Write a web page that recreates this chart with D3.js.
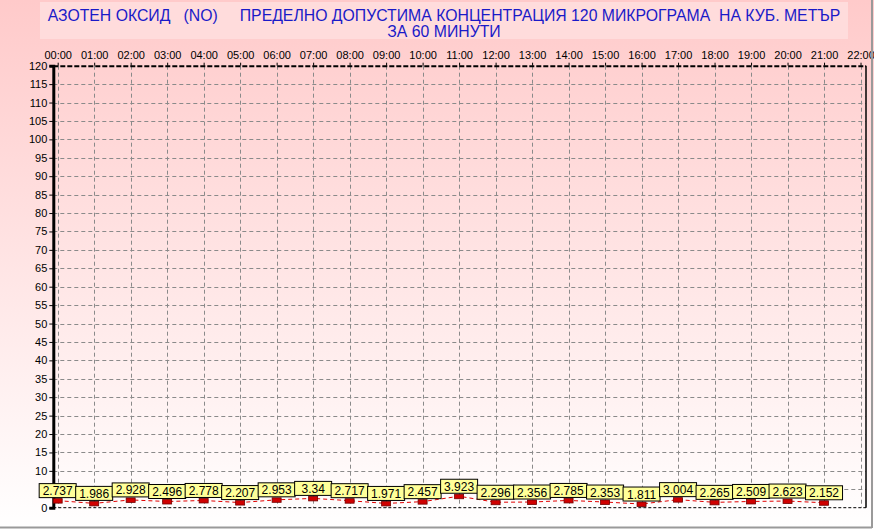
<!DOCTYPE html>
<html>
<head>
<meta charset="utf-8">
<script src="https://cdn.jsdelivr.net/npm/d3@7"></script>
<style>
  body { margin: 0; background: #fff; }
  svg { display: block; font-family: "Liberation Sans", Arial, sans-serif; }
</style>
</head>
<body>
<svg id="chart"></svg>
<script>
// hourly averages, hours 00:00 .. 21:00
const hours = d3.range(0, 22);
const values = [2.737, 1.986, 2.928, 2.496, 2.778, 2.207, 2.953, 3.34, 2.717, 1.971, 2.457,
                3.923, 2.296, 2.356, 2.785, 2.353, 1.811, 3.004, 2.265, 2.509, 2.623, 2.152];
const xTicks = d3.range(0, 23);           // 00:00 .. 22:00
const yTicks = d3.range(0, 121, 5);       // 0 .. 120
const titleLines = [
    "АЗОТЕН ОКСИД   (NO)     ПРЕДЕЛНО ДОПУСТИМА КОНЦЕНТРАЦИЯ 120 МИКРОГРАМА  НА КУБ. МЕТЪР",
    "ЗА 60 МИНУТИ"
];

const svgWidth = 874, svgHeight = 529;
const plot = { left: 53.3, right: 866, top: 65.7, bottom: 507.7 };

const svg = d3.select("#chart")
    .attr("width", svgWidth)
    .attr("height", svgHeight);

// background gradient, pink at top fading to white
const defs = svg.append("defs");
const grad = defs.append("linearGradient")
    .attr("id", "bg").attr("x1", 0).attr("y1", 0).attr("x2", 0).attr("y2", 1);
grad.append("stop").attr("offset", "0%").attr("stop-color", "#ffcaca");
grad.append("stop").attr("offset", "100%").attr("stop-color", "#ffffff");

svg.append("rect")
    .attr("width", svgWidth).attr("height", svgHeight)
    .attr("fill", "url(#bg)");

// title box
svg.append("rect")
    .attr("x", 40).attr("y", 2)
    .attr("width", 808).attr("height", 37)
    .attr("fill", "#ffdcdc");

svg.append("g")
    .selectAll("text")
    .data(titleLines)
    .join("text")
    .attr("x", 444)
    .attr("y", (d, i) => 21 + i * 16)
    .attr("text-anchor", "middle")
    .style("font-size", "15.8px")
    .style("fill", "#1a1ac8")
    .style("white-space", "pre")
    .attr("xml:space", "preserve")
    .text(d => d);

// scales
const xScale = d3.scaleLinear().domain([-0.12, 22.15]).range([plot.left, plot.right]);
const yScale = d3.scaleLinear().domain([0, 120]).range([plot.bottom, plot.top]);

// grid
const grid = svg.append("g")
    .attr("stroke", "#8a8a8a")
    .attr("stroke-dasharray", "4,3")
    .attr("stroke-width", 1);

grid.selectAll("line.v")
    .data(xTicks)
    .join("line")
    .attr("class", "v")
    .attr("x1", d => Math.round(xScale(d)) + 0.5)
    .attr("x2", d => Math.round(xScale(d)) + 0.5)
    .attr("y1", plot.top)
    .attr("y2", plot.bottom);

grid.selectAll("line.h")
    .data(yTicks.filter(d => d > 0 && d < 120))
    .join("line")
    .attr("class", "h")
    .attr("x1", plot.left)
    .attr("x2", plot.right)
    .attr("y1", d => Math.round(yScale(d)) + 0.5)
    .attr("y2", d => Math.round(yScale(d)) + 0.5);

// frame: dashed top and bottom, solid right, thick left axis
svg.append("line")
    .attr("x1", plot.left).attr("x2", plot.right)
    .attr("y1", plot.top + 0.5).attr("y2", plot.top + 0.5)
    .attr("stroke", "#000").attr("stroke-width", 2)
    .attr("stroke-dasharray", "5,2");

svg.append("line")
    .attr("x1", plot.left).attr("x2", plot.right)
    .attr("y1", plot.bottom).attr("y2", plot.bottom)
    .attr("stroke", "#000").attr("stroke-width", 1)
    .attr("stroke-dasharray", "3,2");

svg.append("line")
    .attr("x1", plot.right).attr("x2", plot.right)
    .attr("y1", plot.top).attr("y2", plot.bottom)
    .attr("stroke", "#000").attr("stroke-width", 1.5);

// Y axis
const yAxis = svg.append("g")
    .attr("transform", `translate(${plot.left}, 0)`)
    .call(d3.axisLeft(yScale).tickValues(yTicks).tickSize(4).tickPadding(2));
yAxis.select(".domain").attr("stroke-width", 3);
yAxis.selectAll("text").style("font-size", "11px").style("font-family", "Liberation Sans, Arial, sans-serif");

// X axis on top
const xAxis = svg.append("g")
    .attr("transform", `translate(0, ${plot.top})`)
    .call(d3.axisTop(xScale).tickValues(xTicks)
        .tickFormat(d => d3.format("02d")(d) + ":00")
        .tickSize(3).tickPadding(4));
xAxis.select(".domain").remove();
xAxis.selectAll("text").style("font-size", "11px").style("font-family", "Liberation Sans, Arial, sans-serif");

// series line
const data = hours.map((h, i) => ({ hour: h, value: values[i] }));

const line = d3.line()
    .x(d => xScale(d.hour))
    .y(d => yScale(d.value) + 3);

svg.append("path")
    .datum(data)
    .attr("fill", "none")
    .attr("stroke", "#e00000")
    .attr("stroke-width", 1)
    .attr("stroke-dasharray", "4,3")
    .attr("d", line);

// markers
svg.append("g")
    .selectAll("rect")
    .data(data)
    .join("rect")
    .attr("x", d => xScale(d.hour) - 4.5)
    .attr("y", d => yScale(d.value) + 1)
    .attr("width", 9)
    .attr("height", 4.5)
    .attr("fill", "#d00000")
    .attr("stroke", "#700000")
    .attr("stroke-width", 0.8);

// value labels
const labels = svg.append("g")
    .selectAll("g")
    .data(data)
    .join("g")
    .attr("transform", d => `translate(${xScale(d.hour)}, ${yScale(d.value)})`);

labels.append("rect")
    .attr("x", -18.5)
    .attr("y", -14)
    .attr("width", 37)
    .attr("height", 14)
    .attr("fill", "#ffff99")
    .attr("stroke", "#000")
    .attr("stroke-width", 1);

labels.append("text")
    .attr("x", 0)
    .attr("y", -2.5)
    .attr("text-anchor", "middle")
    .style("font-size", "12px")
    .style("fill", "#000")
    .text(d => d.value);

// outer bevel lines
svg.append("line")
    .attr("x1", 0).attr("x2", 872).attr("y1", 527.5).attr("y2", 527.5)
    .attr("stroke", "#9a9a9a").attr("stroke-width", 2);
svg.append("line")
    .attr("x1", 872).attr("x2", 872).attr("y1", 0).attr("y2", 528)
    .attr("stroke", "#9a9a9a").attr("stroke-width", 2);
</script>
</body>
</html>
